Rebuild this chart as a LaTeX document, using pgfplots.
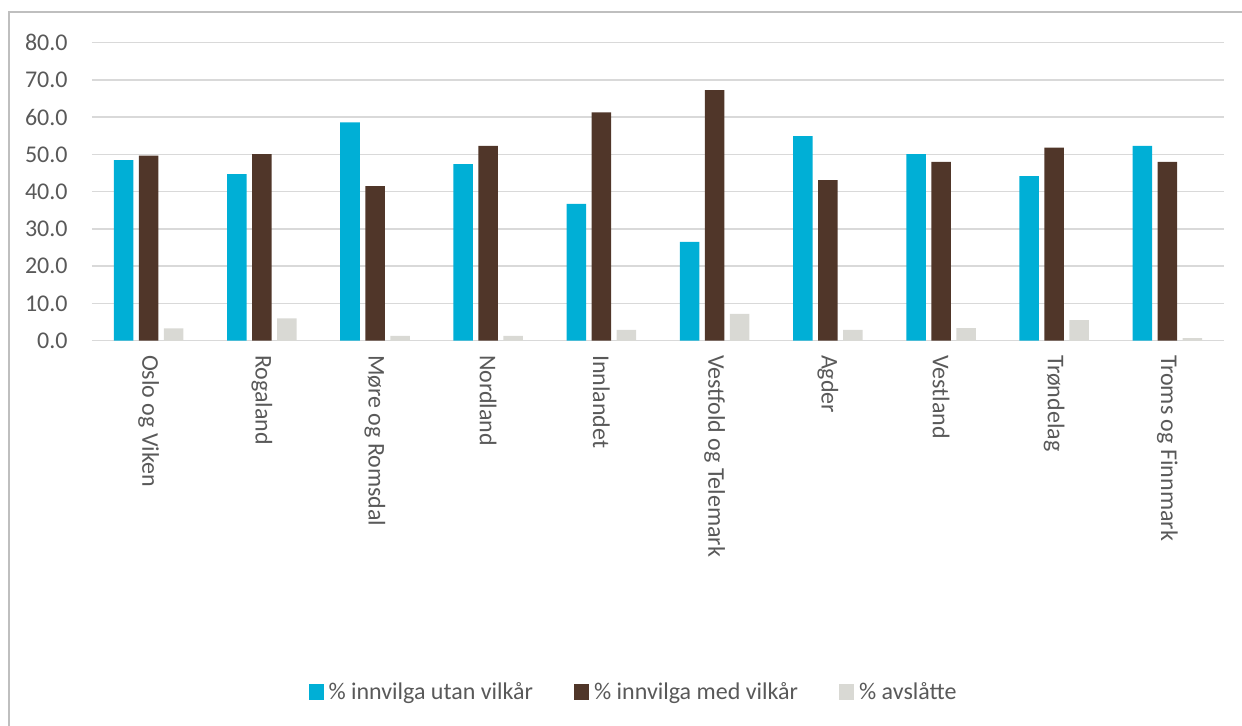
\documentclass[border=0pt]{standalone}
\usepackage{pgfplots}
\pgfplotsset{compat=1.18}
\usepackage{fontspec}
\setmainfont{Carlito}
\definecolor{cblue}{HTML}{00AFD6}
\definecolor{cbrown}{HTML}{503629}
\definecolor{cgray}{HTML}{D9D9D4}
\definecolor{tgray}{HTML}{595959}
\definecolor{ggray}{HTML}{D9D9D9}
\definecolor{bgray}{HTML}{BFBFBF}
\pgfplotstableread{
x utan med avsl
0 48.5 49.7 3.3
1 44.7 50.1 6.0
2 58.6 41.5 1.3
3 47.4 52.3 1.3
4 36.7 61.3 2.9
5 26.5 67.3 7.2
6 54.9 43.1 2.9
7 50.1 48.0 3.4
8 44.2 51.8 5.5
9 52.3 48.0 0.7
}\datatable
\begin{document}
\begin{tikzpicture}
\useasboundingbox (0pt,0pt) rectangle (621pt,-363pt);
\draw[bgray, line width=0.8pt] (4.5pt,-363pt) -- (4.5pt,-6pt) -- (621pt,-6pt);
\begin{axis}[
  at={(46pt,-170.35pt)}, anchor=south west,
  scale only axis, width=566pt, height=149pt,
  ymin=0, ymax=80, xmin=-0.5, xmax=9.5,
  ybar=2.75pt, bar width=9.75pt,
  axis line style={draw=none},
  major tick length=0pt,
  ymajorgrids, grid style={ggray, line width=0.75pt},
  ytick={0,10,20,30,40,50,60,70,80},
  yticklabels={0.0,10.0,20.0,30.0,40.0,50.0,60.0,70.0,80.0},
  yticklabel style={font=\fontsize{12}{14}\selectfont, text=tgray, inner sep=0pt},
  yticklabel shift=12pt,
  xtick=data,
  xticklabels={Oslo og Viken,Rogaland,Møre og Romsdal,Nordland,Innlandet,Vestfold og Telemark,Agder,Vestland,Trøndelag,Troms og Finnmark},
  xticklabel style={rotate=-90, anchor=west, inner sep=0pt, font=\fontsize{12}{14}\selectfont, text=tgray},
  xticklabel shift=7pt,
  legend style={at={(0.4797,-1.1789)}, anchor=center, draw=none, fill=none,
    legend columns=3, font=\fontsize{12}{14}\selectfont, text=tgray,
    /tikz/every even column/.append style={column sep=18pt},
    nodes={inner sep=2.5pt}},
  legend image code/.code={\fill[#1] (0pt,-4pt) rectangle (7.5pt,4pt);},
]
\addplot[fill=cblue, draw=none] table[x=x, y=utan] {\datatable};
\addplot[fill=cbrown, draw=none] table[x=x, y=med] {\datatable};
\addplot[fill=cgray, draw=none] table[x=x, y=avsl] {\datatable};
\legend{\% innvilga utan vilkår, \% innvilga med vilkår, \% avslåtte}
\end{axis}
\end{tikzpicture}
\end{document}
